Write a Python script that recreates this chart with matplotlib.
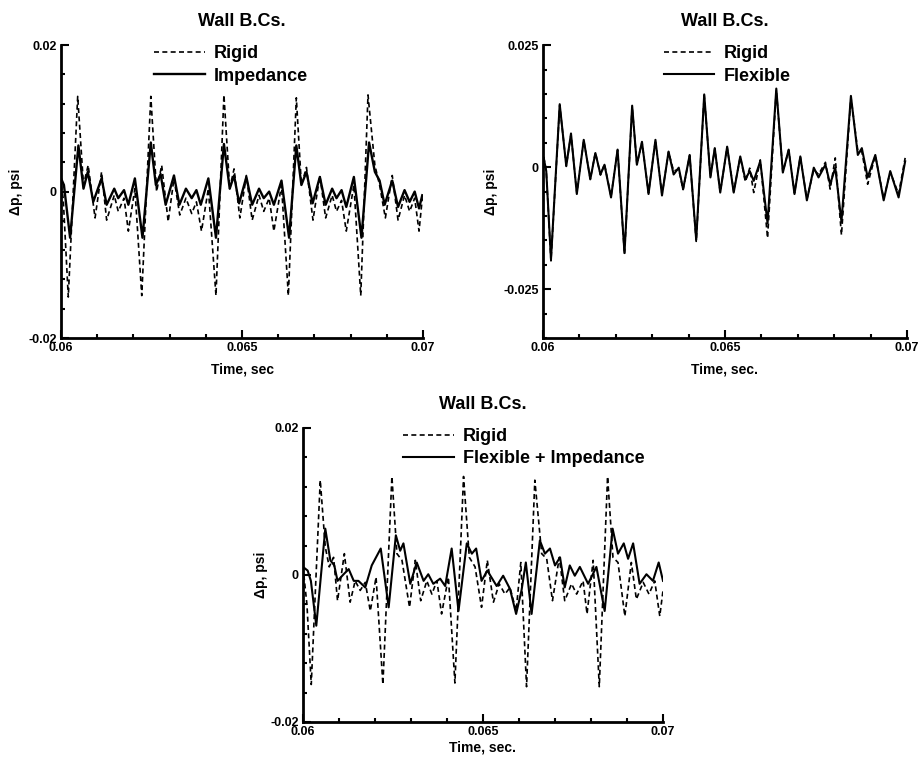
import matplotlib
matplotlib.use("Agg")
import matplotlib.pyplot as plt
from matplotlib.ticker import MultipleLocator, FuncFormatter

plt.rcParams['font.family'] = ['Liberation Sans', 'DejaVu Sans']
plt.rcParams['font.weight'] = 'bold'
plt.rcParams['axes.unicode_minus'] = False

# --- Rigid vs Impedance wall ---
t_imp = [0.06000, 0.06008, 0.06025, 0.06048, 0.06062, 0.06074, 0.06089, 0.06112, 0.06126, 0.06147,
         0.06158, 0.06174, 0.06186, 0.06204, 0.06225, 0.06248, 0.06262, 0.06275, 0.06289, 0.06312,
         0.06327, 0.06345, 0.06361, 0.06374, 0.06386, 0.06407, 0.06428, 0.06450, 0.06466, 0.06478,
         0.06492, 0.06512, 0.06528, 0.06547, 0.06560, 0.06575, 0.06588, 0.06609, 0.06630, 0.06650,
         0.06664, 0.06678, 0.06695, 0.06715, 0.06731, 0.06749, 0.06761, 0.06775, 0.06788, 0.06809,
         0.06830, 0.06851, 0.06867, 0.06880, 0.06894, 0.06915, 0.06931, 0.06949, 0.06963, 0.06977,
         0.06989, 0.06998]
p_imp = [0.0018, 0.0009, -0.0063, 0.0063, 0.0004, 0.0027, -0.0014, 0.0018, -0.0018, 0.0004,
         -0.0009, 0.0002, -0.0018, 0.0018, -0.0063, 0.0067, 0.0009, 0.0024, -0.0018, 0.0022,
         -0.0018, 0.0004, -0.0009, 0.0002, -0.0018, 0.0018, -0.0063, 0.0065, 0.0004, 0.0022,
         -0.0016, 0.0020, -0.0018, 0.0004, -0.0009, 0.0000, -0.0018, 0.0015, -0.0063, 0.0063,
         0.0009, 0.0027, -0.0016, 0.0020, -0.0018, 0.0004, -0.0009, 0.0002, -0.0021, 0.0020,
         -0.0063, 0.0067, 0.0027, 0.0015, -0.0018, 0.0015, -0.0021, 0.0002, -0.0014, 0.0000,
         -0.0023, -0.0005]

t_rig1 = [0.06000, 0.06006, 0.06020, 0.06046, 0.06062, 0.06075, 0.06094, 0.06112, 0.06126, 0.06147,
          0.06158, 0.06174, 0.06186, 0.06204, 0.06223, 0.06248, 0.06264, 0.06278, 0.06296, 0.06312,
          0.06328, 0.06345, 0.06361, 0.06374, 0.06388, 0.06407, 0.06428, 0.06450, 0.06466, 0.06478,
          0.06494, 0.06512, 0.06528, 0.06547, 0.06560, 0.06575, 0.06588, 0.06609, 0.06628, 0.06650,
          0.06664, 0.06678, 0.06696, 0.06715, 0.06731, 0.06749, 0.06761, 0.06775, 0.06788, 0.06809,
          0.06828, 0.06848, 0.06867, 0.06880, 0.06896, 0.06915, 0.06931, 0.06949, 0.06963, 0.06977,
          0.06989, 0.06998]
p_rig1 = [0.0009, -0.0009, -0.0144, 0.0130, 0.0009, 0.0036, -0.0036, 0.0027, -0.0039, -0.0005,
          -0.0027, -0.0009, -0.0054, 0.0004, -0.0142, 0.0130, 0.0000, 0.0036, -0.0041, 0.0018,
          -0.0032, -0.0009, -0.0030, -0.0014, -0.0054, 0.0004, -0.0142, 0.0132, 0.0004, 0.0031,
          -0.0036, 0.0022, -0.0039, -0.0005, -0.0027, -0.0009, -0.0054, 0.0009, -0.0142, 0.0128,
          0.0009, 0.0033, -0.0039, 0.0022, -0.0036, -0.0005, -0.0027, -0.0012, -0.0054, 0.0009,
          -0.0142, 0.0132, 0.0036, 0.0009, -0.0036, 0.0022, -0.0039, -0.0005, -0.0027, -0.0009,
          -0.0054, -0.0009]

# --- Rigid vs Flexible wall (same time samples) ---
t_flex = [0.06002, 0.06009, 0.06022, 0.06046, 0.06064, 0.06077, 0.06093, 0.06112, 0.06130, 0.06144,
          0.06158, 0.06169, 0.06187, 0.06205, 0.06224, 0.06245, 0.06258, 0.06272, 0.06290, 0.06309,
          0.06327, 0.06345, 0.06359, 0.06373, 0.06385, 0.06403, 0.06421, 0.06443, 0.06460, 0.06472,
          0.06487, 0.06506, 0.06524, 0.06542, 0.06556, 0.06568, 0.06579, 0.06597, 0.06617, 0.06641,
          0.06659, 0.06675, 0.06691, 0.06707, 0.06725, 0.06744, 0.06757, 0.06776, 0.06789, 0.06803,
          0.06820, 0.06846, 0.06865, 0.06876, 0.06892, 0.06913, 0.06936, 0.06954, 0.06977, 0.06995]
p_flex = [0.0019, -0.0008, -0.0189, 0.0129, 0.0002, 0.0069, -0.0055, 0.0056, -0.0025, 0.0029,
          -0.0015, 0.0005, -0.0062, 0.0036, -0.0176, 0.0126, 0.0005, 0.0052, -0.0055, 0.0056,
          -0.0058, 0.0032, -0.0015, -0.0001, -0.0045, 0.0025, -0.0149, 0.0149, -0.0021, 0.0039,
          -0.0052, 0.0042, -0.0052, 0.0022, -0.0025, -0.0008, -0.0028, 0.0012, -0.0115, 0.0161,
          -0.0011, 0.0036, -0.0055, 0.0022, -0.0068, -0.0001, -0.0021, 0.0005, -0.0035, -0.0001,
          -0.0112, 0.0146, 0.0025, 0.0039, -0.0021, 0.0025, -0.0068, -0.0008, -0.0062, 0.0012]
p_rig2 = [0.0021, -0.0008, -0.0192, 0.0127, 0.0003, 0.0067, -0.0053, 0.0055, -0.0024, 0.0030,
          -0.0016, 0.0006, -0.0060, 0.0035, -0.0178, 0.0124, 0.0006, 0.0051, -0.0053, 0.0055,
          -0.0056, 0.0031, -0.0008, -0.0004, -0.0046, 0.0024, -0.0152, 0.0147, -0.0020, 0.0038,
          -0.0051, 0.0041, -0.0050, 0.0021, -0.0030, -0.0002, -0.0052, 0.0015, -0.0145, 0.0158,
          -0.0010, 0.0035, -0.0053, 0.0022, -0.0066, -0.0005, -0.0015, 0.0010, -0.0045, 0.0019,
          -0.0139, 0.0143, 0.0033, 0.0032, -0.0035, 0.0024, -0.0064, -0.0010, -0.0055, 0.0019]

# --- Rigid vs Flexible + Impedance wall ---
t_rig3 = [0.06000, 0.06011, 0.06023, 0.06048, 0.06062, 0.06073, 0.06085, 0.06096, 0.06115, 0.06131,
          0.06145, 0.06159, 0.06173, 0.06187, 0.06203, 0.06222, 0.06247, 0.06261, 0.06275, 0.06296,
          0.06312, 0.06327, 0.06344, 0.06358, 0.06372, 0.06385, 0.06404, 0.06422, 0.06446, 0.06462,
          0.06478, 0.06496, 0.06512, 0.06529, 0.06545, 0.06561, 0.06575, 0.06592, 0.06605, 0.06621,
          0.06644, 0.06663, 0.06677, 0.06693, 0.06712, 0.06727, 0.06746, 0.06760, 0.06778, 0.06789,
          0.06806, 0.06823, 0.06846, 0.06861, 0.06875, 0.06894, 0.06912, 0.06926, 0.06945, 0.06961,
          0.06977, 0.06991, 0.07000]
p_rig3 = [0.0011, -0.0040, -0.0149, 0.0129, 0.0038, 0.0011, 0.0024, -0.0035, 0.0029, -0.0037,
          -0.0008, -0.0021, -0.0010, -0.0049, -0.0003, -0.0149, 0.0134, 0.0029, 0.0020, -0.0044,
          0.0020, -0.0035, -0.0008, -0.0026, -0.0008, -0.0053, -0.0003, -0.0147, 0.0134, 0.0024,
          0.0011, -0.0044, 0.0020, -0.0037, -0.0012, -0.0026, -0.0017, -0.0049, 0.0017, -0.0152,
          0.0129, 0.0029, 0.0022, -0.0035, 0.0024, -0.0035, -0.0012, -0.0026, -0.0008, -0.0053,
          0.0020, -0.0152, 0.0134, 0.0024, 0.0017, -0.0056, 0.0017, -0.0033, -0.0010, -0.0026,
          -0.0008, -0.0056, -0.0021]

t_fi = [0.06000, 0.06013, 0.06022, 0.06037, 0.06062, 0.06076, 0.06087, 0.06096, 0.06113, 0.06127,
        0.06141, 0.06154, 0.06173, 0.06191, 0.06216, 0.06238, 0.06258, 0.06270, 0.06279, 0.06298,
        0.06316, 0.06335, 0.06348, 0.06362, 0.06381, 0.06395, 0.06413, 0.06432, 0.06455, 0.06469,
        0.06481, 0.06496, 0.06512, 0.06538, 0.06556, 0.06575, 0.06592, 0.06607, 0.06619, 0.06635,
        0.06658, 0.06672, 0.06686, 0.06700, 0.06714, 0.06727, 0.06741, 0.06755, 0.06769, 0.06792,
        0.06815, 0.06838, 0.06860, 0.06875, 0.06891, 0.06903, 0.06917, 0.06935, 0.06954, 0.06972,
        0.06988, 0.07000]
p_fi = [0.0011, 0.0006, -0.0008, -0.0069, 0.0063, 0.0020, 0.0013, -0.0008, 0.0001, 0.0008,
        -0.0008, -0.0008, -0.0017, 0.0013, 0.0036, -0.0044, 0.0054, 0.0033, 0.0043, -0.0012,
        0.0017, -0.0008, 0.0001, -0.0012, -0.0005, -0.0015, 0.0036, -0.0049, 0.0043, 0.0029,
        0.0036, -0.0008, 0.0006, -0.0015, -0.0001, -0.0019, -0.0053, -0.0021, 0.0017, -0.0053,
        0.0047, 0.0029, 0.0036, 0.0013, 0.0024, -0.0017, 0.0013, -0.0001, 0.0011, -0.0012,
        0.0011, -0.0049, 0.0063, 0.0029, 0.0043, 0.0022, 0.0043, -0.0012, 0.0001, -0.0008,
        0.0017, -0.0008]


def fmt(v, pos):
    v = round(v, 6)
    return '0' if v == 0 else f'{v:g}'


def style_axes(ax, ymin, ymax, ymajor, yminor, xlabel, legend_x, solid_label, xpad=6):
    ax.set_xlim(0.06, 0.07)
    ax.set_ylim(ymin, ymax)
    for side in ('top', 'right'):
        ax.spines[side].set_visible(False)
    for side in ('left', 'bottom'):
        ax.spines[side].set_linewidth(2)
    ax.xaxis.set_major_locator(MultipleLocator(0.005))
    ax.xaxis.set_minor_locator(MultipleLocator(0.001))
    ax.yaxis.set_major_locator(MultipleLocator(ymajor))
    ax.yaxis.set_minor_locator(MultipleLocator(yminor))
    ax.xaxis.set_major_formatter(FuncFormatter(fmt))
    ax.yaxis.set_major_formatter(FuncFormatter(fmt))
    ax.tick_params(which='both', direction='in', width=1.5, labelsize=9, pad=3)
    ax.tick_params(which='major', length=6)
    ax.tick_params(which='minor', length=3)
    ax.set_xlabel(xlabel, fontsize=10, fontweight='bold', labelpad=xpad)
    ax.set_ylabel('Δp, psi', fontsize=10, fontweight='bold')
    ax.set_title('Wall B.Cs.', fontsize=13, fontweight='bold', pad=14)
    ax.legend(['Rigid', solid_label], loc='upper left', bbox_to_anchor=(legend_x, 1.0),
              frameon=False, fontsize=13, handlelength=2.8, handletextpad=0.5,
              labelspacing=0.3, borderpad=0, borderaxespad=0)


fig = plt.figure(figsize=(9.22, 7.58), dpi=100)

ax1 = fig.add_axes([0.0662, 0.554, 0.3926, 0.3865])
ax1.plot(t_rig1, p_rig1, color='black', lw=1.2, dashes=(3, 2))
ax1.plot(t_imp, p_imp, color='black', lw=1.7, solid_joinstyle='round')
style_axes(ax1, -0.02, 0.02, 0.02, 0.004, 'Time, sec', 0.257, 'Impedance')
ax1.yaxis.set_label_coords(-0.105, 0.5)

ax2 = fig.add_axes([0.5889, 0.554, 0.3948, 0.3865])
ax2.plot(t_flex, p_rig2, color='black', lw=1.2, dashes=(3, 2))
ax2.plot(t_flex, p_flex, color='black', lw=1.5, solid_joinstyle='round')
style_axes(ax2, -0.035, 0.025, 0.025, 0.005, 'Time, sec.', 0.332, 'Flexible')
ax2.yaxis.set_label_coords(-0.124, 0.5)

ax3 = fig.add_axes([0.3286, 0.0475, 0.3905, 0.3879])
ax3.plot(t_rig3, p_rig3, color='black', lw=1.2, dashes=(3, 2))
ax3.plot(t_fi, p_fi, color='black', lw=1.5, solid_joinstyle='round')
style_axes(ax3, -0.02, 0.02, 0.02, 0.004, 'Time, sec.', 0.278, 'Flexible + Impedance', xpad=2)
ax3.yaxis.set_label_coords(-0.097, 0.5)

fig.savefig('out.png', dpi=100)
